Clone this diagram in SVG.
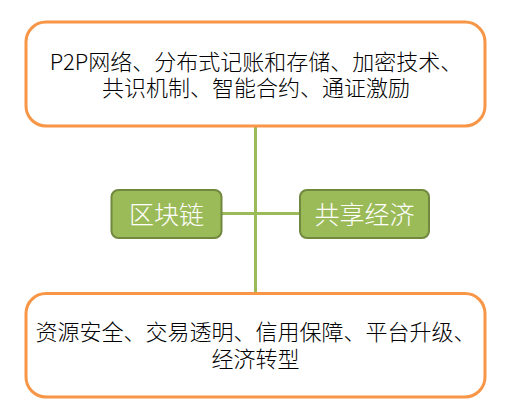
<svg xmlns="http://www.w3.org/2000/svg" width="515" height="417" viewBox="0 0 515 417">
<style>
.outer{fill:#ffffff;stroke:#F79646;stroke-width:3}
.green{fill:#9BBB59;stroke:#71893F;stroke-width:2}
.conn{stroke:#9BBB59;stroke-width:3;fill:none}
.t{font-family:"Noto Sans CJK SC","Noto Sans",sans-serif;font-size:22px;font-weight:300;fill:#000000;text-anchor:middle}
.w{font-family:"Noto Sans CJK SC","Noto Sans",sans-serif;font-size:25px;font-weight:300;fill:#ffffff;text-anchor:middle}
</style>
<rect width="515" height="417" fill="#ffffff"/>
<g id="connectors">
<line class="conn" x1="255.5" y1="126" x2="255.5" y2="293"/>
<line class="conn" x1="222" y1="213.5" x2="300" y2="213.5"/>
</g>
<g id="top">
<rect class="outer" x="26" y="22" width="459" height="104" rx="20"/>
<text class="t" x="256" y="69.5">P2P网络、分布式记账和存储、加密技术、</text>
<text class="t" x="256" y="95.5">共识机制、智能合约、通证激励</text>
</g>
<g id="blockchain">
<rect class="green" x="111.5" y="190" width="110" height="48" rx="7"/>
<text class="w" x="166.5" y="223.5">区块链</text>
</g>
<g id="sharing">
<rect class="green" x="300" y="190" width="129" height="48" rx="7"/>
<text class="w" x="364.5" y="223.5">共享经济</text>
</g>
<g id="bottom">
<rect class="outer" x="26" y="293.5" width="459" height="103.5" rx="20"/>
<text class="t" x="255.5" y="340">资源安全、交易透明、信用保障、平台升级、</text>
<text class="t" x="255.5" y="367">经济转型</text>
</g>
</svg>
